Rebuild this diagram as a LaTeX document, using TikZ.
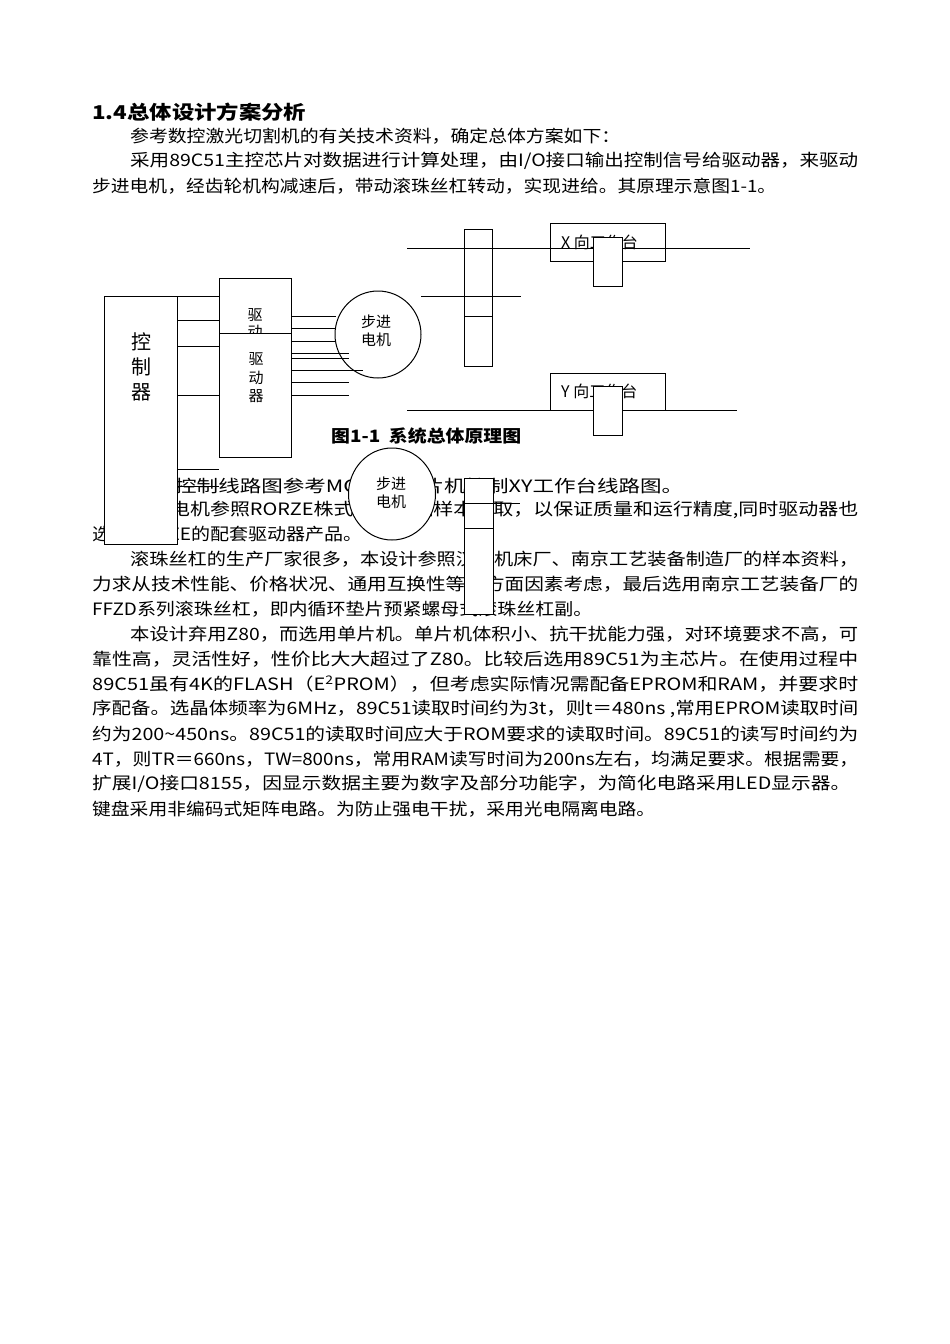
\documentclass[tikz,border=0pt]{standalone}
\usepackage{fontspec}
\usepackage{graphicx}
\usetikzlibrary{shapes.geometric}
\setmainfont{Noto Sans CJK SC}
\begin{document}
\begin{tikzpicture}[x=1pt,y=-1pt,
  ln/.style={line width=1pt},
  bx/.style={draw,line width=1pt,fill=white},
  body/.style={anchor=west,inner sep=0pt,font=\fontsize{17}{20}\selectfont},
  lbl/.style={inner sep=0pt,font=\fontsize{15}{17}\selectfont}]
\useasboundingbox[fill=white] (0,0) rectangle (950,1344);
\newcommand\tl[4]{\node[body] at (#1,#2) {\resizebox{#3pt}{\height}{#4}};}
% heading
\node[anchor=west,inner sep=0pt,font=\fontsize{19}{22}\selectfont\bfseries] (h) at (92,112) {\resizebox{214pt}{\height}{1.4总体设计方案分析}};
\tl{130}{136}{490}{参考数控激光切割机的有关技术资料，确定总体方案如下：}
\tl{130}{161}{728}{采用89C51主控芯片对数据进行计算处理，由I/O接口输出控制信号给驱动器，来驱动}
\tl{92}{186}{684}{步进电机，经齿轮机构减速后，带动滚珠丝杠转动，实现进给。其原理示意图1-1。}
\tl{175}{486}{508}{控制线路图参考MCS-51单片机控制XY工作台线路图。}
\tl{130}{510}{728}{步进电机参照RORZE株式会社产品样本选取，以保证质量和运行精度,同时驱动器也}
\tl{92}{534}{270}{选用RORZE的配套驱动器产品。}
\tl{130}{559}{728}{滚珠丝杠的生产厂家很多，本设计参照汉江机床厂、南京工艺装备制造厂的样本资料，}
\tl{92}{584}{766}{力求从技术性能、价格状况、通用互换性等多方面因素考虑，最后选用南京工艺装备厂的}
\tl{92}{609}{500}{FFZD系列滚珠丝杠，即内循环垫片预紧螺母式滚珠丝杠副。}
\tl{130}{634}{728}{本设计弃用Z80，而选用单片机。单片机体积小、抗干扰能力强，对环境要求不高，可}
\tl{92}{659}{766}{靠性高，灵活性好，性价比大大超过了Z80。比较后选用89C51为主芯片。在使用过程中}
\tl{92}{684}{766}{89C51虽有4K的FLASH（E\textsuperscript{2}PROM），但考虑实际情况需配备EPROM和RAM，并要求时}
\tl{92}{709}{766}{序配备。选晶体频率为6MHz，89C51读取时间约为3t，则t＝480ns ,常用EPROM读取时间}
\tl{92}{734}{766}{约为200\textasciitilde 450ns。89C51的读取时间应大于ROM要求的读取时间。89C51的读写时间约为}
\tl{92}{759}{766}{4T，则TR＝660ns，TW=800ns，常用RAM读写时间为200ns左右，均满足要求。根据需要，}
\tl{92}{784}{758}{扩展I/O接口8155，因显示数据主要为数字及部分功能字，为简化电路采用LED显示器。}
\tl{92}{809}{563}{键盘采用非编码式矩阵电路。为防止强电干扰，采用光电隔离电路。}
% caption
\node[anchor=west,inner sep=0pt,font=\fontsize{17}{20}\selectfont\bfseries] (cap) at (331,436) {\resizebox{190pt}{\height}{图1-1\ \ 系统总体原理图}};
% controller to driver lines
\draw[ln] (177,296) -- (219,296);
\draw[ln] (177,320) -- (219,320);
\draw[ln] (177,346) -- (219,346);
\draw[ln] (177,395) -- (219,395);
\draw[ln] (177,469) -- (219,469);
\draw[ln] (177,486) -- (219,486);
% drivers
\node[bx,minimum width=72,minimum height=55,anchor=north west] (drv1) at (219,278) {};
\node[lbl,anchor=north] at (255,308) {驱};
\node[lbl,anchor=north] at (255,325) {动};
\node[bx,minimum width=72,minimum height=124,anchor=north west] (drv2) at (219,333) {};
\node[lbl,align=center,font=\fontsize{15}{18.5}\selectfont] (drvt) at (256,378) {驱\\动\\器};
% controller
\node[bx,minimum width=73,minimum height=248,anchor=north west] (ctl) at (104,296) {};
\node[inner sep=0pt,align=center,font=\fontsize{20}{25}\selectfont] (ctlt) at (141,367) {控\\制\\器};
% driver to motor lines
\foreach \y/\e in {316/336,328/336,341/336,353/349,358/349,370/363,382/349,395/349}
  \draw[ln] (291,\y) -- (\e,\y);
% motor 1
\node[draw,line width=1pt,ellipse,minimum width=86,minimum height=87,inner sep=0pt] (m1) at (378,334.5) {};
\node[lbl,align=center,font=\fontsize{15}{18}\selectfont] at (376,331) {步进\\电机};
% upper bar and lines
\draw[ln] (407,248) -- (750,248);
\draw[ln] (421,296) -- (521,296);
\node[draw,line width=1pt,minimum width=28,minimum height=137,anchor=north west] (bar1) at (464,229) {};
\draw[ln] (464,316) -- (492,316);
% X table
\node[draw,line width=1pt,minimum width=115,minimum height=38,anchor=north west] (xt) at (550,223) {};
\node[lbl,anchor=west,font=\fontsize{16}{18}\selectfont] at (561,242) {X 向工作台};
\draw[ln] (550,248) -- (665,248);
\node[bx,minimum width=29,minimum height=49,anchor=north west] (xi) at (593,237) {};
% Y table
\node[draw,line width=1pt,minimum width=115,minimum height=37,anchor=north west] (yt) at (550,373) {};
\node[lbl,anchor=west,font=\fontsize{16}{18}\selectfont] at (561,391) {Y 向工作台};
\draw[ln] (407,410) -- (737,410);
\node[bx,minimum width=29,minimum height=49,anchor=north west] (yi) at (593,386) {};
% lower motor
\node[draw,line width=1pt,fill=white,ellipse,minimum width=87,minimum height=92,inner sep=0pt] (m2) at (392,494) {};
\node[lbl,align=center,font=\fontsize{15}{18}\selectfont] at (391,493) {步进\\电机};
% lower bar
\node[bx,minimum width=29,minimum height=136,anchor=north west] (bar2) at (464,478) {};
\draw[ln] (464,503) -- (520,503);
\draw[ln] (464,528) -- (493,528);
\end{tikzpicture}
\end{document}
